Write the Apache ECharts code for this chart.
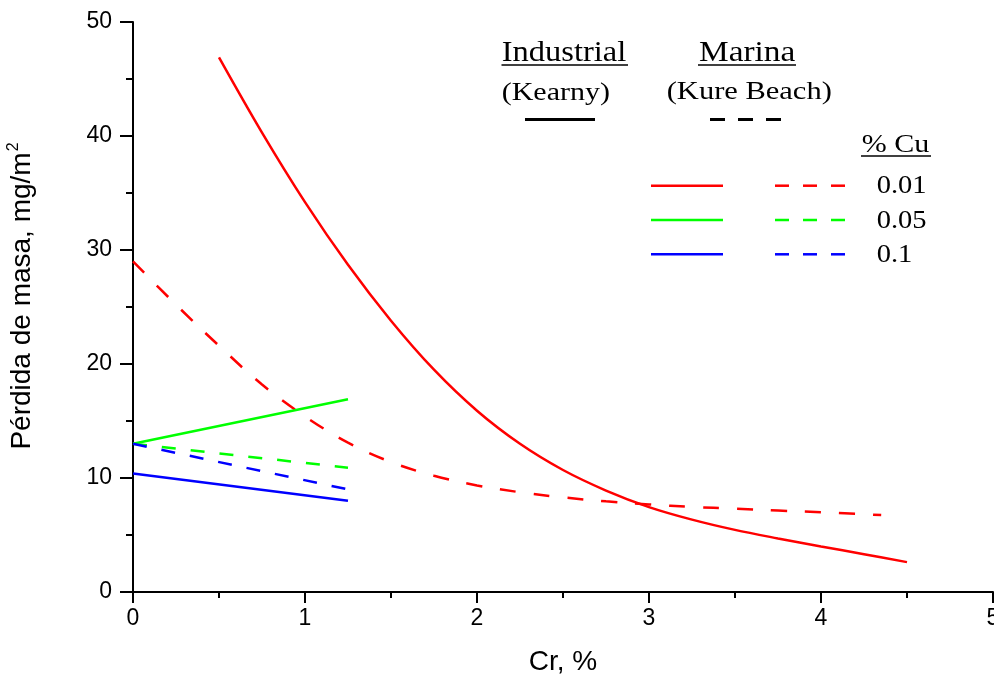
<!DOCTYPE html>
<html>
<head>
<meta charset="utf-8">
<script src="https://cdn.jsdelivr.net/npm/echarts@6/dist/echarts.min.js"></script>
<style>
html,body{margin:0;padding:0;background:#fff;}
#chart{width:994px;height:675px;}
</style>
</head>
<body>
<div id="chart"></div>
<script>
// ---- data ----
var xIndustrial001 = [0.5, 0.75, 1, 1.25, 1.5, 1.75, 2, 2.25, 2.5, 2.75, 3, 3.25, 3.5, 3.75, 4, 4.25, 4.5];
var yIndustrial001 = [46.9, 40.3, 34.2, 28.7, 23.8, 19.5, 15.9, 13.0, 10.7, 8.9, 7.45, 6.35, 5.45, 4.7, 4.0, 3.32, 2.62];

var xMarina001 = [0, 0.25, 0.5, 0.75, 1, 1.25, 1.5, 1.75, 2, 2.25, 2.5, 2.75, 3, 3.25, 3.5, 3.75, 4, 4.35];
var yMarina001 = [29.0, 25.2, 21.6, 18.2, 15.4, 13.1, 11.4, 10.2, 9.35, 8.75, 8.3, 7.95, 7.68, 7.47, 7.3, 7.14, 7.0, 6.75];

var xShort = [0, 1.25];
var yIndustrial005 = [13.0, 16.9];
var yMarina005 = [13.0, 10.9];
var yIndustrial01 = [10.4, 8.0];
var yMarina01 = [13.0, 9.0];

var xTicks = [0, 1, 2, 3, 4, 5];
var yTicks = [0, 10, 20, 30, 40, 50];
var cuLabels = ['0.01', '0.05', '0.1'];

function pairs(xs, ys) { return xs.map(function (x, i) { return [x, ys[i]]; }); }

var RED = '#ff0000', GREEN = '#00ff00', BLUE = '#0000ff';
var SANS = '"Liberation Sans", Arial, sans-serif';
var SERIF = '"Liberation Serif", "Times New Roman", serif';

var chart = echarts.init(document.getElementById('chart'), null, {renderer: 'canvas'});

function txt(str, x, y, size, sx) {
  return {
    type: 'text', x: x, y: y, scaleX: sx, scaleY: 1, silent: true,
    style: {
      text: str, x: 0, y: 0, fill: '#000',
      fontSize: size, fontFamily: SERIF,
      align: 'left', verticalAlign: 'middle',
      textAlign: 'left', textVerticalAlign: 'middle'
    }
  };
}
function seg(x1, x2, y, color, w, dash) {
  return {
    type: 'line', silent: true,
    shape: {x1: x1, y1: y, x2: x2, y2: y},
    style: {stroke: color, lineWidth: w, lineDash: dash || null}
  };
}

var lineW = 2.5;
var option = {
  animation: false,
  backgroundColor: '#fff',
  grid: {left: 133, right: 1, top: 22, bottom: 83, containLabel: false, outerBoundsMode: 'none'},
  xAxis: {
    type: 'value', min: 0, max: 5, interval: 1,
    name: 'Cr, %', nameLocation: 'middle', nameGap: 56, nameMoveOverlap: false,
    nameTextStyle: {fontFamily: SANS, fontSize: 28, color: '#000'},
    axisLine: {show: true, onZero: false, lineStyle: {color: '#000', width: 2}},
    axisTick: {show: true, inside: false, length: 11, lineStyle: {color: '#000', width: 2}},
    minorTick: {show: true, splitNumber: 2, length: 6, lineStyle: {color: '#000', width: 2}},
    axisLabel: {
      fontFamily: SANS, fontSize: 23, color: '#000', margin: 15, hideOverlap: false,
      formatter: function (v) { return xTicks.indexOf(v) >= 0 ? String(v) : ''; }
    },
    splitLine: {show: false}
  },
  yAxis: {
    type: 'value', min: 0, max: 50, interval: 10,
    name: 'Pérdida de masa, mg/m{sup|2}', nameLocation: 'middle', nameGap: 95,
    nameRotate: 90, nameMoveOverlap: false,
    nameTextStyle: {
      fontFamily: SANS, fontSize: 28, color: '#000', lineHeight: 32, padding: [0, 0, 0, 22],
      rich: {sup: {fontFamily: SANS, fontSize: 16, color: '#000', verticalAlign: 'top', lineHeight: 32, padding: [0, 0, 13, 1]}}
    },
    axisLine: {show: true, onZero: false, lineStyle: {color: '#000', width: 2}},
    axisTick: {show: true, inside: false, length: 13, lineStyle: {color: '#000', width: 2}},
    minorTick: {show: true, splitNumber: 2, length: 7, lineStyle: {color: '#000', width: 2}},
    axisLabel: {
      fontFamily: SANS, fontSize: 23, color: '#000', margin: 21,
      formatter: function (v) { return yTicks.indexOf(v) >= 0 ? String(v) : ''; }
    },
    splitLine: {show: false}
  },
  series: [
    {name: 'Industrial 0.01', type: 'line', data: pairs(xIndustrial001, yIndustrial001), smooth: 0.35,
     showSymbol: false, lineStyle: {color: RED, width: lineW}},
    {name: 'Marina 0.01', type: 'line', data: pairs(xMarina001, yMarina001), smooth: 0.35,
     showSymbol: false, lineStyle: {color: RED, width: lineW, type: [16, 18]}},
    {name: 'Industrial 0.05', type: 'line', data: pairs(xShort, yIndustrial005),
     showSymbol: false, lineStyle: {color: GREEN, width: lineW}},
    {name: 'Marina 0.05', type: 'line', data: pairs(xShort, yMarina005),
     showSymbol: false, lineStyle: {color: GREEN, width: lineW, type: [14, 15]}},
    {name: 'Marina 0.1', type: 'line', data: pairs(xShort, yMarina01),
     showSymbol: false, lineStyle: {color: BLUE, width: lineW, type: [14, 15]}},
    {name: 'Industrial 0.1', type: 'line', data: pairs(xShort, yIndustrial01),
     showSymbol: false, lineStyle: {color: BLUE, width: lineW}}
  ],
  graphic: {
    elements: [
      txt('Industrial', 501.7, 53.5, 29, 1.12),
      seg(501.5, 628, 65, '#000', 1.5),
      txt('(Kearny)', 501.7, 93.3, 25, 1.2),
      seg(525, 595, 119.5, '#000', 3),
      txt('Marina', 699, 53.5, 29, 1.15),
      seg(698, 796, 65, '#000', 1.5),
      txt('(Kure Beach)', 666.7, 92.5, 25, 1.22),
      seg(710, 782, 119.5, '#000', 3, [15, 13]),
      txt('% Cu', 861.7, 145, 25, 1.2),
      seg(861, 931, 156, '#000', 1.5),
      seg(651, 723, 185.7, RED, 2.5),
      seg(775, 847, 185.7, RED, 2.5, [14, 14]),
      txt(cuLabels[0], 876.7, 186.7, 25, 1.14),
      seg(651, 723, 220, GREEN, 2.5),
      seg(775, 847, 220, GREEN, 2.5, [14, 14]),
      txt(cuLabels[1], 876.7, 221, 25, 1.14),
      seg(651, 723, 254.3, BLUE, 2.5),
      seg(775, 847, 254.3, BLUE, 2.5, [14, 14]),
      txt(cuLabels[2], 876.7, 255, 25, 1.14)
    ]
  }
};
chart.setOption(option);
</script>
</body>
</html>
